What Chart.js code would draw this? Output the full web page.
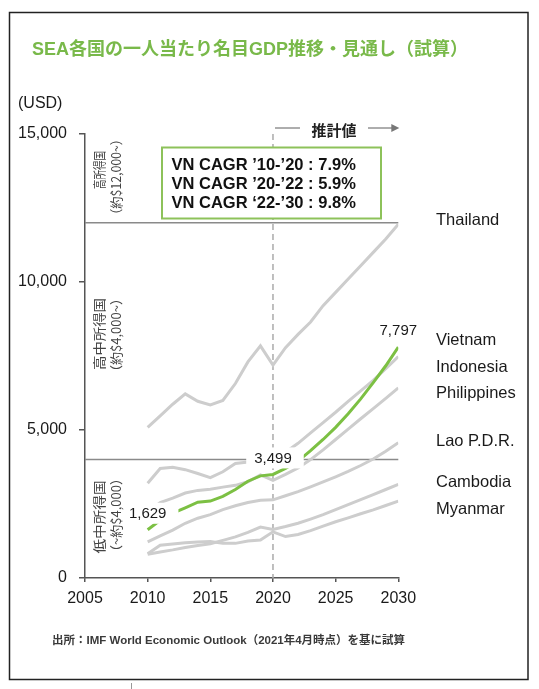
<!DOCTYPE html>
<html lang="ja">
<head>
<meta charset="utf-8">
<title>SEA各国の一人当たり名目GDP推移・見通し（試算）</title>
<script src="https://cdn.jsdelivr.net/npm/chart.js@4.4.1/dist/chart.umd.min.js"></script>
<style>
  html, body { margin: 0; padding: 0; background: #fff; overflow: hidden; }
  #wrap { position: relative; width: 539px; height: 689px; }
</style>
</head>
<body>
<div id="wrap"><canvas id="gdpChart"></canvas></div>
<script>
// years on the x axis (historical 2010-2020, estimates 2021-2030)
const years = [2010, 2011, 2012, 2013, 2014, 2015, 2016, 2017, 2018, 2019, 2020,
               2021, 2022, 2023, 2024, 2025, 2026, 2027, 2028, 2029, 2030];

// GDP per capita, USD
const thailand    = [5090, 5480, 5870, 6220, 5970, 5850, 6000, 6570, 7300, 7840, 7190,
                     7780, 8230, 8650, 9200, 9650, 10100, 10550, 11000, 11450, 11950];
const indonesia   = [3200, 3700, 3740, 3660, 3530, 3390, 3590, 3870, 3920, 4180, 3900,
                     4250, 4550, 4900, 5250, 5600, 5970, 6320, 6680, 7070, 7480];
const philippines = [2220, 2550, 2700, 2870, 2960, 3000, 3070, 3130, 3250, 3480, 3300,
                     3500, 3720, 4000, 4330, 4680, 5030, 5380, 5720, 6070, 6420];
const lao         = [1220, 1420, 1620, 1850, 2020, 2140, 2310, 2440, 2550, 2630, 2640,
                     2780, 2920, 3080, 3250, 3420, 3600, 3800, 4020, 4280, 4570];
const cambodia    = [800, 880, 950, 1030, 1100, 1160, 1270, 1390, 1540, 1720, 1640,
                     1740, 1850, 1990, 2140, 2310, 2480, 2650, 2820, 2990, 3160];
const myanmar     = [820, 1110, 1150, 1190, 1220, 1230, 1170, 1170, 1250, 1280, 1560,
                     1400, 1470, 1600, 1750, 1900, 2030, 2170, 2300, 2450, 2600];
const vietnam     = [1629, 1950, 2190, 2370, 2560, 2600, 2760, 2990, 3270, 3450, 3499,
                     3700, 3950, 4300, 4680, 5090, 5550, 6050, 6600, 7170, 7797];

const countryNames = ['Thailand', 'Vietnam', 'Indonesia', 'Philippines', 'Lao P.D.R.', 'Cambodia', 'Myanmar'];
const yTicks = [0, 5000, 10000, 15000];
const xTicks = [2005, 2010, 2015, 2020, 2025, 2030];
const incomeLines = [4000, 12000];        // income-class borders
const forecastFrom = 2020;                 // dashed divider
const labelledYears = [2010, 2020, 2030];  // Vietnam points with value labels
const cagrNotes = ['VN CAGR \u201910-\u201920 : 7.9%', 'VN CAGR \u201920-\u201922 : 5.9%', 'VN CAGR \u201822-\u201930 : 9.8%'];

const LATIN = '"Liberation Sans", Arial, "Noto Sans CJK JP", sans-serif';
const CJK = '"Noto Sans CJK JP", "Liberation Sans", sans-serif';
const GREEN = '#7cc043';
const GREY = '#cdcdcd';

function toPoints(series) {
  return years.map((yr, i) => ({ x: yr, y: series[i] }));
}

function greyLine(name, series) {
  return { label: name, data: toPoints(series), borderColor: GREY, borderWidth: 3,
           pointRadius: 0, tension: 0, fill: false, order: 2 };
}

function line(ctx, x1, y1, x2, y2) {
  ctx.beginPath();
  ctx.moveTo(x1, y1);
  ctx.lineTo(x2, y2);
  ctx.stroke();
}

// rotated text squeezed/stretched to a given length
function verticalText(ctx, text, cx, cy, len, font) {
  ctx.save();
  ctx.font = font;
  ctx.translate(cx, cy);
  ctx.rotate(-Math.PI / 2);
  const w = ctx.measureText(text).width;
  ctx.scale(len / w, 1);
  ctx.textAlign = 'center';
  ctx.textBaseline = 'middle';
  ctx.fillText(text, 0, 0);
  ctx.restore();
}

const overlay = {
  id: 'overlay',
  beforeDatasetsDraw(chart) {
    const { ctx, chartArea: a, scales: { x, y } } = chart;
    ctx.save();
    ctx.strokeStyle = '#8a8a8a';
    ctx.lineWidth = 1.5;
    incomeLines.forEach(v => {
      const py = y.getPixelForValue(v);
      line(ctx, a.left, py, a.right, py);
    });
    // forecast divider
    const fx = x.getPixelForValue(forecastFrom);
    ctx.strokeStyle = '#aaaaaa';
    ctx.setLineDash([6, 4]);
    line(ctx, fx, a.top, fx, a.bottom);
    ctx.restore();
  },
  afterDatasetsDraw(chart) {
    const { ctx, chartArea: a, scales: { x, y } } = chart;
    ctx.save();

    // Vietnam value labels on white patches
    ctx.font = '15px ' + LATIN;
    ctx.textAlign = 'center';
    ctx.textBaseline = 'middle';
    labelledYears.forEach(yr => {
      const v = vietnam[years.indexOf(yr)];
      const px = x.getPixelForValue(yr);
      const py = y.getPixelForValue(v) - 16;
      const txt = v.toLocaleString('en-US');
      const w = ctx.measureText(txt).width + 20;
      ctx.fillStyle = '#fff';
      if (yr !== 2030) ctx.fillRect(px - w / 2 + 2, py - 11, w, 21);
      ctx.fillStyle = '#1a1a1a';
      ctx.fillText(txt, px, py);
    });

    // CAGR box
    ctx.fillStyle = '#fff';
    ctx.fillRect(162, 147.5, 219, 71);
    ctx.strokeStyle = '#8dc25a';
    ctx.lineWidth = 2;
    ctx.strokeRect(162, 147.5, 219, 71);
    ctx.fillStyle = '#111';
    ctx.font = 'bold 16.5px ' + LATIN;
    ctx.textAlign = 'left';
    cagrNotes.forEach((t, i) => ctx.fillText(t, 171.5, 165 + i * 19.2));

    // forecast header "— 推計値 →"
    const fx = x.getPixelForValue(forecastFrom);
    ctx.strokeStyle = '#777';
    ctx.lineWidth = 1.2;
    line(ctx, fx + 2, a.top - 6, fx + 27, a.top - 6);
    line(ctx, fx + 95, a.top - 6, a.right - 2, a.top - 6);
    ctx.fillStyle = '#777';
    ctx.beginPath();
    ctx.moveTo(a.right + 1, a.top - 6);
    ctx.lineTo(a.right - 7, a.top - 10);
    ctx.lineTo(a.right - 7, a.top - 2);
    ctx.closePath();
    ctx.fill();
    ctx.fillStyle = '#222';
    ctx.font = 'bold 15px ' + CJK;
    ctx.textAlign = 'center';
    ctx.fillText('推計値', fx + 61, a.top - 4);

    // income class captions
    ctx.fillStyle = '#444';
    const vf = '13px ' + CJK;
    verticalText(ctx, '高所得国', 99, 170, 38, vf);
    verticalText(ctx, '（約$12,000~）', 116, 177, 88, vf);
    verticalText(ctx, '高中所得国', 99, 334, 72, vf);
    verticalText(ctx, '（約$4,000~）', 116, 335, 86, vf);
    verticalText(ctx, '低中所得国', 99, 517, 73, vf);
    verticalText(ctx, '（~約$4,000）', 116, 515, 86, vf);

    // country names on the right
    const nameY = [220, 340, 367, 393, 441, 482, 509];
    ctx.fillStyle = '#1a1a1a';
    ctx.font = '16.5px ' + LATIN;
    ctx.textAlign = 'left';
    countryNames.forEach((n, i) => ctx.fillText(n, 436, nameY[i]));
    ctx.restore();
  },
  afterDraw(chart) {
    const { ctx } = chart;
    ctx.save();
    // frame
    ctx.strokeStyle = '#222';
    ctx.lineWidth = 1.5;
    ctx.strokeRect(9.5, 12.5, 518.5, 667);
    ctx.strokeStyle = '#999';
    ctx.lineWidth = 1;
    line(ctx, 131.5, 683, 131.5, 689);

    // title
    ctx.fillStyle = '#79b94a';
    ctx.font = 'bold 18px ' + LATIN.replace('"Liberation Sans", Arial, ', '"Liberation Sans", ');
    ctx.textBaseline = 'middle';
    ctx.textAlign = 'left';
    ctx.fillText('SEA各国の一人当たり名目GDP推移・見通し（試算）', 32, 50);

    // unit
    ctx.fillStyle = '#1a1a1a';
    ctx.font = '16px ' + LATIN;
    ctx.fillText('(USD)', 18, 104);

    // source
    ctx.fillStyle = '#3a3a3a';
    ctx.font = 'bold 11.5px ' + LATIN;
    ctx.fillText('出所：IMF World Economic Outlook（2021年4月時点）を基に試算', 52, 641);
    ctx.restore();
  }
};

Chart.defaults.font.family = LATIN;

new Chart(document.getElementById('gdpChart'), {
  type: 'line',
  data: {
    datasets: [
      greyLine('Thailand', thailand),
      greyLine('Indonesia', indonesia),
      greyLine('Philippines', philippines),
      greyLine('Lao P.D.R.', lao),
      greyLine('Cambodia', cambodia),
      greyLine('Myanmar', myanmar),
      { label: 'Vietnam', data: toPoints(vietnam), borderColor: GREEN, borderWidth: 3,
        pointRadius: 0, tension: 0, fill: false, order: 1 }
    ]
  },
  options: {
    responsive: true,
    maintainAspectRatio: false,
    animation: false,
    events: [],
    layout: { padding: { top: 134, right: 140.7, left: 0, bottom: 0 } },
    plugins: { legend: { display: false }, tooltip: { enabled: false } },
    scales: {
      x: {
        type: 'linear',
        min: xTicks[0],
        max: xTicks[xTicks.length - 1],
        afterBuildTicks: s => { s.ticks = xTicks.map(v => ({ value: v })); },
        afterFit: s => { s.height = 111; },
        ticks: { color: '#1a1a1a', font: { size: 16 }, padding: 7, callback: v => String(v) },
        grid: { drawOnChartArea: false, tickLength: 4, color: '#555', lineWidth: 1.5 },
        border: { color: '#555', width: 1.5 }
      },
      y: {
        min: yTicks[0],
        max: yTicks[yTicks.length - 1],
        afterBuildTicks: s => { s.ticks = yTicks.map(v => ({ value: v })); },
        afterFit: s => { s.width = 85; },
        ticks: { color: '#1a1a1a', font: { size: 16 }, padding: 12,
                 callback: v => v.toLocaleString('en-US') },
        grid: { drawOnChartArea: false, tickLength: 6, color: '#555', lineWidth: 1.5 },
        border: { color: '#555', width: 1.5 }
      }
    }
  },
  plugins: [overlay]
});
</script>
</body>
</html>
